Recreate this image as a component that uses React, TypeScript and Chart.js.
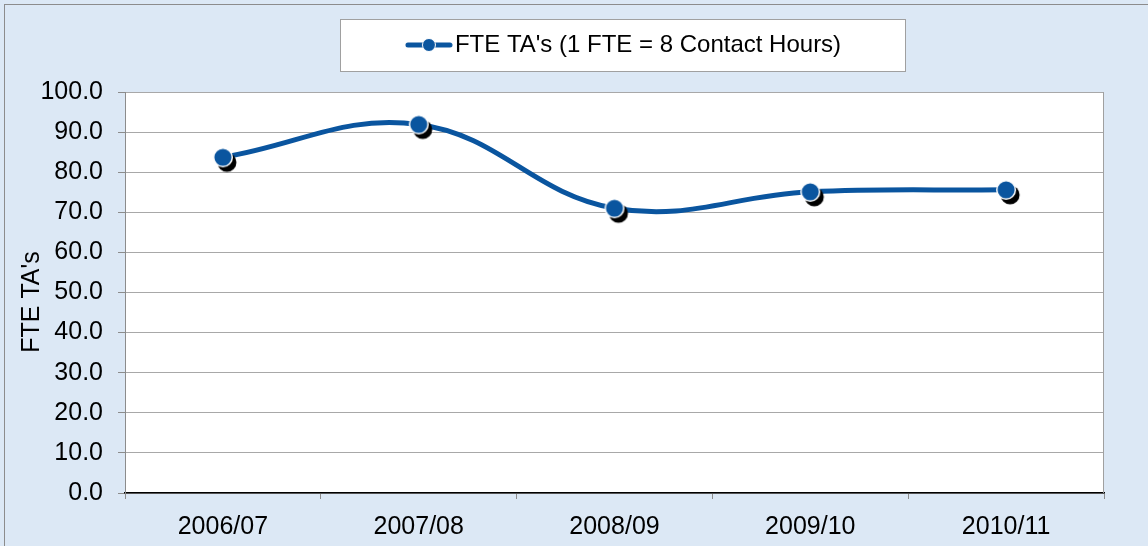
import React, { useEffect, useRef } from "react";
import { Chart, registerables } from "chart.js";

Chart.register(...registerables);

const categories = ["2006/07", "2007/08", "2008/09", "2009/10", "2010/11"];
const fteValues = [83.7, 91.9, 71.0, 75.1, 75.6];
const seriesLabel = "FTE TA's (1 FTE = 8 Contact Hours)";
const yAxisTitle = "FTE TA's  \u2009";

const LINE_COLOR = "#0a559f";
const FONT = "'Liberation Sans', Arial, sans-serif";

function makePointImage(): HTMLCanvasElement {
  const c = document.createElement("canvas");
  c.width = 34;
  c.height = 34;
  const ctx = c.getContext("2d")!;
  const cx = 17, cy = 17;
  ctx.fillStyle = "#000";
  ctx.beginPath();
  ctx.arc(cx + 4, cy + 5, 9.5, 0, Math.PI * 2);
  ctx.fill();
  ctx.fillStyle = LINE_COLOR;
  ctx.strokeStyle = "#ffffff";
  ctx.lineWidth = 1.5;
  ctx.beginPath();
  ctx.arc(cx, cy, 9.3, 0, Math.PI * 2);
  ctx.fill();
  ctx.stroke();
  return c;
}

function makeLegendImage(): HTMLCanvasElement {
  const c = document.createElement("canvas");
  c.width = 48;
  c.height = 16;
  const ctx = c.getContext("2d")!;
  ctx.strokeStyle = LINE_COLOR;
  ctx.lineWidth = 5;
  ctx.lineCap = "round";
  ctx.beginPath();
  ctx.moveTo(3, 8);
  ctx.lineTo(45, 8);
  ctx.stroke();
  ctx.fillStyle = LINE_COLOR;
  ctx.strokeStyle = "#fff";
  ctx.lineWidth = 1;
  ctx.beginPath();
  ctx.arc(24, 8, 6.5, 0, Math.PI * 2);
  ctx.fill();
  ctx.stroke();
  return c;
}

const decorPlugin = {
  id: "decor",
  afterLayout(chart: any) {
    const lg = chart.legend;
    if (lg) {
      lg.left += 72;
      lg.right += 72;
      lg.top -= 25;
      lg.bottom -= 25;
    }
  },
  beforeDraw(chart: any) {
    const { ctx, width, height, chartArea } = chart;
    ctx.save();
    ctx.fillStyle = "#dce8f5";
    ctx.fillRect(0, 0, width, height);
    ctx.strokeStyle = "#8c8c8c";
    ctx.lineWidth = 1;
    ctx.strokeRect(4.5, 4.5, width + 20, height + 20);
    ctx.fillStyle = "#ffffff";
    ctx.fillRect(chartArea.left, chartArea.top, chartArea.right - chartArea.left, chartArea.bottom - chartArea.top);
    const lg = chart.legend;
    if (lg && lg.legendHitBoxes && lg.legendHitBoxes.length) {
      const hb = lg.legendHitBoxes[0];
      const cy = hb.top + hb.height / 2;
      const x0 = Math.round(hb.left - 75) + 0.5;
      const x1 = Math.round(hb.left + hb.width + 64) + 0.5;
      const y0 = Math.round(cy - 26) + 0.5;
      const y1 = Math.round(cy + 26) + 0.5;
      ctx.fillStyle = "#ffffff";
      ctx.fillRect(x0, y0, x1 - x0, y1 - y0);
      ctx.strokeStyle = "#a0a0a0";
      ctx.strokeRect(x0, y0, x1 - x0, y1 - y0);
    }
    ctx.restore();
  },
  beforeDatasetsDraw(chart: any) {
    const { ctx, chartArea } = chart;
    ctx.save();
    ctx.strokeStyle = "#a0a0a0";
    ctx.lineWidth = 1;
    ctx.beginPath();
    ctx.moveTo(Math.round(chartArea.right) - 0.5, chartArea.top);
    ctx.lineTo(Math.round(chartArea.right) - 0.5, chartArea.bottom);
    ctx.stroke();
    ctx.restore();
  },
};

export default function App() {
  const ref = useRef<HTMLCanvasElement | null>(null);

  useEffect(() => {
    if (!ref.current) return;
    const pointImg = makePointImage();
    const legendImg = makeLegendImage();
    const chart = new Chart(ref.current, {
      type: "line",
      data: {
        labels: categories,
        datasets: [
          {
            label: seriesLabel,
            data: fteValues,
            borderColor: LINE_COLOR,
            backgroundColor: LINE_COLOR,
            borderWidth: 5,
            tension: 0.4,
            pointStyle: pointImg as any,
            pointRadius: 10,
            fill: false,
          },
        ],
      },
      options: {
        animation: false,
        responsive: false,
        events: [],
        layout: { padding: { left: 8, right: 44, top: 0, bottom: 0 } },
        plugins: {
          tooltip: { enabled: false },
          legend: {
            display: true,
            position: "top",
            labels: {
              usePointStyle: true,
              pointStyleWidth: 28,
              padding: 9,
              color: "#000",
              font: { family: FONT, size: 24 },
              generateLabels: () => [
                {
                  text: seriesLabel,
                  pointStyle: legendImg as any,
                  fillStyle: LINE_COLOR,
                  strokeStyle: LINE_COLOR,
                  lineWidth: 0,
                  hidden: false,
                  datasetIndex: 0,
                  fontColor: "#000",
                } as any,
              ],
            },
          },
        },
        scales: {
          x: {
            type: "category",
            offset: true,
            afterFit: (s: any) => {
              s.height = 53;
            },
            grid: {
              display: true,
              drawOnChartArea: false,
              drawTicks: true,
              tickLength: 6,
              color: "#8c8c8c",
              offset: true,
            },
            border: { display: true, color: "#000000", width: 1.5 },
            ticks: {
              color: "#000",
              padding: 13,
              font: { family: FONT, size: 25 },
              maxRotation: 0,
            },
          },
          y: {
            min: 0,
            max: 100,
            afterFit: (s: any) => {
              s.width = 117;
              s.paddingTop = 92;
            },
            grid: {
              color: "#a8a8a8",
              lineWidth: 1,
              drawTicks: true,
              tickLength: 7,
              tickColor: "#8c8c8c",
            },
            border: { display: true, color: "#8c8c8c", width: 1 },
            title: {
              display: true,
              text: yAxisTitle,
              color: "#000",
              font: { family: FONT, size: 25 },
              padding: { top: 9, bottom: 0 },
            },
            ticks: {
              stepSize: 10,
              color: "#000",
              padding: 15,
              font: { family: FONT, size: 25 },
              callback: (v: any) => Number(v).toFixed(1),
            },
          },
        },
      },
      plugins: [decorPlugin],
    });
    return () => chart.destroy();
  }, []);

  return (
    <div style={{ position: "absolute", left: 0, top: 0, width: 1148, height: 546 }}>
      <canvas ref={ref} width={1148} height={546} style={{ display: "block", width: 1148, height: 546 }} />
    </div>
  );
}
